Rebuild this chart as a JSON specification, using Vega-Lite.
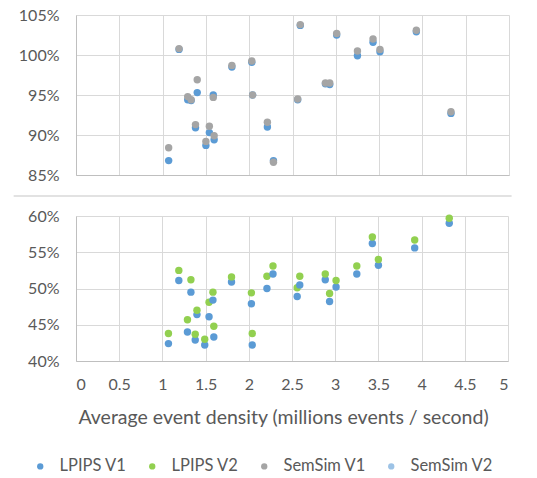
{
  "$schema": "https://vega.github.io/schema/vega-lite/v6.json",
  "background": "white",
  "padding": {"top": 7, "left": 12, "right": 10, "bottom": 0},
  "spacing": 11,
  "datasets": {
    "top": [
      {"x": 1.07, "series": "SemSim V2", "value": 0.868},
      {"x": 1.07, "series": "SemSim V1", "value": 0.884},
      {"x": 1.19, "series": "SemSim V2", "value": 1.007},
      {"x": 1.19, "series": "SemSim V1", "value": 1.008},
      {"x": 1.29, "series": "SemSim V2", "value": 0.944},
      {"x": 1.29, "series": "SemSim V1", "value": 0.948},
      {"x": 1.33, "series": "SemSim V2", "value": 0.943},
      {"x": 1.33, "series": "SemSim V1", "value": 0.944},
      {"x": 1.38, "series": "SemSim V2", "value": 0.909},
      {"x": 1.38, "series": "SemSim V1", "value": 0.913},
      {"x": 1.40, "series": "SemSim V2", "value": 0.953},
      {"x": 1.40, "series": "SemSim V1", "value": 0.969},
      {"x": 1.50, "series": "SemSim V2", "value": 0.887},
      {"x": 1.50, "series": "SemSim V1", "value": 0.892},
      {"x": 1.54, "series": "SemSim V2", "value": 0.903},
      {"x": 1.54, "series": "SemSim V1", "value": 0.911},
      {"x": 1.585, "series": "SemSim V2", "value": 0.950},
      {"x": 1.585, "series": "SemSim V1", "value": 0.947},
      {"x": 1.595, "series": "SemSim V2", "value": 0.894},
      {"x": 1.595, "series": "SemSim V1", "value": 0.899},
      {"x": 1.80, "series": "SemSim V2", "value": 0.985},
      {"x": 1.80, "series": "SemSim V1", "value": 0.987},
      {"x": 2.03, "series": "SemSim V2", "value": 0.991},
      {"x": 2.03, "series": "SemSim V1", "value": 0.9925},
      {"x": 2.04, "series": "SemSim V2", "value": 0.950},
      {"x": 2.04, "series": "SemSim V1", "value": 0.950},
      {"x": 2.21, "series": "SemSim V2", "value": 0.910},
      {"x": 2.21, "series": "SemSim V1", "value": 0.916},
      {"x": 2.28, "series": "SemSim V2", "value": 0.868},
      {"x": 2.28, "series": "SemSim V1", "value": 0.866},
      {"x": 2.56, "series": "SemSim V2", "value": 0.944},
      {"x": 2.56, "series": "SemSim V1", "value": 0.945},
      {"x": 2.59, "series": "SemSim V2", "value": 1.037},
      {"x": 2.59, "series": "SemSim V1", "value": 1.038},
      {"x": 2.88, "series": "SemSim V2", "value": 0.964},
      {"x": 2.88, "series": "SemSim V1", "value": 0.965},
      {"x": 2.93, "series": "SemSim V2", "value": 0.963},
      {"x": 2.93, "series": "SemSim V1", "value": 0.965},
      {"x": 3.01, "series": "SemSim V2", "value": 1.025},
      {"x": 3.01, "series": "SemSim V1", "value": 1.027},
      {"x": 3.25, "series": "SemSim V2", "value": 0.999},
      {"x": 3.25, "series": "SemSim V1", "value": 1.005},
      {"x": 3.43, "series": "SemSim V2", "value": 1.016},
      {"x": 3.43, "series": "SemSim V1", "value": 1.020},
      {"x": 3.51, "series": "SemSim V2", "value": 1.004},
      {"x": 3.51, "series": "SemSim V1", "value": 1.007},
      {"x": 3.93, "series": "SemSim V2", "value": 1.029},
      {"x": 3.93, "series": "SemSim V1", "value": 1.031},
      {"x": 4.33, "series": "SemSim V2", "value": 0.927},
      {"x": 4.33, "series": "SemSim V1", "value": 0.929}
    ],
    "bottom": [
      {"x": 1.07, "series": "LPIPS V1", "value": 0.424},
      {"x": 1.07, "series": "LPIPS V2", "value": 0.438},
      {"x": 1.19, "series": "LPIPS V1", "value": 0.511},
      {"x": 1.19, "series": "LPIPS V2", "value": 0.525},
      {"x": 1.29, "series": "LPIPS V1", "value": 0.440},
      {"x": 1.29, "series": "LPIPS V2", "value": 0.457},
      {"x": 1.33, "series": "LPIPS V1", "value": 0.495},
      {"x": 1.33, "series": "LPIPS V2", "value": 0.512},
      {"x": 1.38, "series": "LPIPS V1", "value": 0.429},
      {"x": 1.38, "series": "LPIPS V2", "value": 0.437},
      {"x": 1.40, "series": "LPIPS V1", "value": 0.464},
      {"x": 1.40, "series": "LPIPS V2", "value": 0.470},
      {"x": 1.49, "series": "LPIPS V1", "value": 0.422},
      {"x": 1.49, "series": "LPIPS V2", "value": 0.430},
      {"x": 1.54, "series": "LPIPS V1", "value": 0.461},
      {"x": 1.54, "series": "LPIPS V2", "value": 0.481},
      {"x": 1.585, "series": "LPIPS V1", "value": 0.484},
      {"x": 1.585, "series": "LPIPS V2", "value": 0.495},
      {"x": 1.595, "series": "LPIPS V1", "value": 0.433},
      {"x": 1.595, "series": "LPIPS V2", "value": 0.448},
      {"x": 1.80, "series": "LPIPS V1", "value": 0.509},
      {"x": 1.80, "series": "LPIPS V2", "value": 0.516},
      {"x": 2.03, "series": "LPIPS V1", "value": 0.479},
      {"x": 2.03, "series": "LPIPS V2", "value": 0.494},
      {"x": 2.04, "series": "LPIPS V1", "value": 0.422},
      {"x": 2.04, "series": "LPIPS V2", "value": 0.438},
      {"x": 2.21, "series": "LPIPS V1", "value": 0.500},
      {"x": 2.21, "series": "LPIPS V2", "value": 0.517},
      {"x": 2.28, "series": "LPIPS V1", "value": 0.520},
      {"x": 2.28, "series": "LPIPS V2", "value": 0.531},
      {"x": 2.56, "series": "LPIPS V1", "value": 0.489},
      {"x": 2.56, "series": "LPIPS V2", "value": 0.501},
      {"x": 2.59, "series": "LPIPS V1", "value": 0.505},
      {"x": 2.59, "series": "LPIPS V2", "value": 0.517},
      {"x": 2.885, "series": "LPIPS V1", "value": 0.512},
      {"x": 2.885, "series": "LPIPS V2", "value": 0.520},
      {"x": 2.935, "series": "LPIPS V1", "value": 0.482},
      {"x": 2.935, "series": "LPIPS V2", "value": 0.493},
      {"x": 3.01, "series": "LPIPS V1", "value": 0.502},
      {"x": 3.01, "series": "LPIPS V2", "value": 0.511},
      {"x": 3.25, "series": "LPIPS V1", "value": 0.520},
      {"x": 3.25, "series": "LPIPS V2", "value": 0.531},
      {"x": 3.43, "series": "LPIPS V1", "value": 0.562},
      {"x": 3.43, "series": "LPIPS V2", "value": 0.571},
      {"x": 3.50, "series": "LPIPS V1", "value": 0.532},
      {"x": 3.50, "series": "LPIPS V2", "value": 0.540},
      {"x": 3.92, "series": "LPIPS V1", "value": 0.556},
      {"x": 3.92, "series": "LPIPS V2", "value": 0.567},
      {"x": 4.32, "series": "LPIPS V1", "value": 0.590},
      {"x": 4.32, "series": "LPIPS V2", "value": 0.597}
    ]
  },
  "vconcat": [
    {
      "width": 433,
      "height": 160,
      "encoding": {
        "x": {"field": "x", "type": "quantitative", "scale": {"domain": [0, 5]},
          "axis": {"values": [0, 0.5, 1, 1.5, 2, 2.5, 3, 3.5, 4, 4.5, 5], "labels": false, "ticks": false, "title": null}},
        "y": {"field": "value", "type": "quantitative", "scale": {"domain": [0.85, 1.05], "zero": false, "nice": false},
          "axis": {"values": [0.85, 0.9, 0.95, 1.0, 1.05], "format": ".0%", "title": null, "labelOverlap": false}}
      },
      "layer": [
        {
          "data": {"name": "top"},
          "transform": [{"filter": "datum.series === 'SemSim V2'"}],
          "mark": {"type": "circle", "size": 55, "opacity": 1, "color": "#5B9BD5"}
        },
        {
          "data": {"name": "top"},
          "transform": [{"filter": "datum.series === 'SemSim V1'"}],
          "mark": {"type": "circle", "size": 55, "opacity": 1},
          "encoding": {
            "color": {"field": "series", "type": "nominal"}
          }
        },
        {
          "data": {"values": [{"x": -0.72, "x2": 5.03, "value": 0.8238}]},
          "mark": {"type": "rule", "color": "#D9D9D9", "strokeWidth": 1.5, "clip": false},
          "encoding": {
            "x2": {"field": "x2"}
          }
        }
      ]
    },
    {
      "width": 432,
      "height": 145,
      "data": {"name": "bottom"},
      "mark": {"type": "circle", "size": 55, "opacity": 1},
      "encoding": {
        "x": {"field": "x", "type": "quantitative", "scale": {"domain": [0, 5]},
          "axis": {"values": [0, 0.5, 1, 1.5, 2, 2.5, 3, 3.5, 4, 4.5, 5], "format": "~g", "ticks": false, "labelPadding": 15, "labelOverlap": false,
            "title": "Average event density (millions events / second)", "titlePadding": 16, "titleFontSize": 19.5, "titleFontWeight": "normal", "titleX": 207}},
        "y": {"field": "value", "type": "quantitative", "scale": {"domain": [0.4, 0.6], "zero": false, "nice": false},
          "axis": {"values": [0.4, 0.45, 0.5, 0.55, 0.6], "format": ".0%", "title": null, "labelOverlap": false}},
        "color": {
          "field": "series", "type": "nominal",
          "scale": {"domain": ["LPIPS V1", "LPIPS V2", "SemSim V1", "SemSim V2"], "range": ["#5B9BD5", "#92D050", "#A5A5A5", "#9DC3E6"]},
          "legend": {"title": null, "orient": "bottom", "direction": "horizontal"}
        }
      }
    }
  ],
  "config": {
    "view": {"stroke": null},
    "font": "Lato",
    "axis": {
      "labelFont": "Lato", "labelFontSize": 16, "labelColor": "#595959",
      "titleFont": "Lato", "titleColor": "#595959",
      "gridColor": "#D9D9D9", "gridWidth": 1, "domainColor": "#BFBFBF", "ticks": false
    },
    "axisY": {"labelPadding": 17},
    "legend": {
      "labelFont": "Lato", "labelFontSize": 16.5, "labelColor": "#595959",
      "symbolType": "circle", "symbolSize": 40, "symbolStrokeWidth": 0,
      "columnPadding": 17, "labelOffset": 11, "offset": 31,
      "layout": {"bottom": {"anchor": "middle"}}
    }
  }
}
